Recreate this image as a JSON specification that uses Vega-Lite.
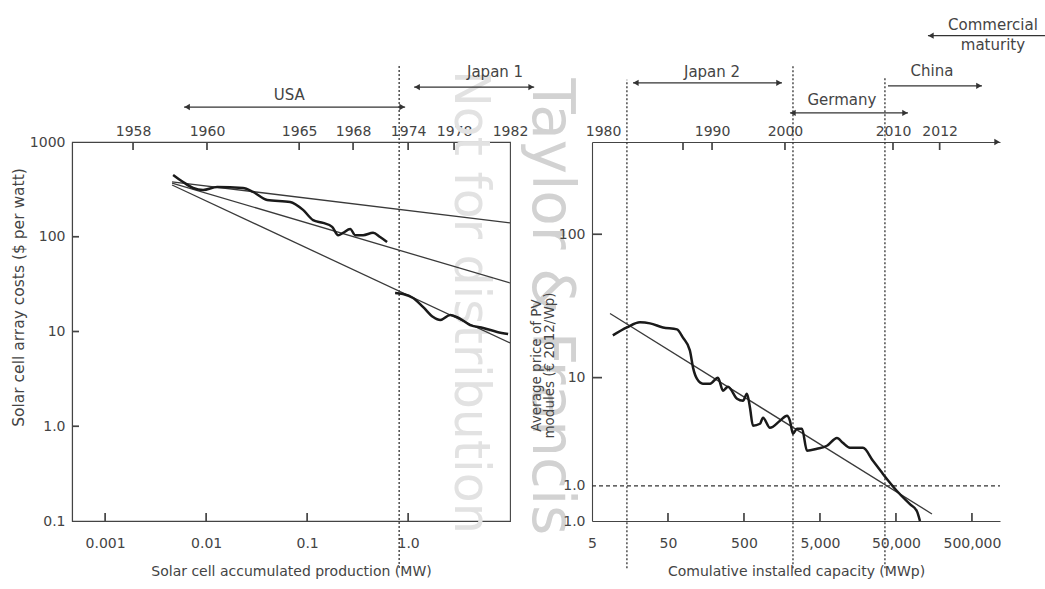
{
  "$schema": "https://vega.github.io/schema/vega-lite/v6.json",
  "background": "white",
  "padding": {"left": 10, "top": 17, "right": 0, "bottom": 0},
  "spacing": 82,
  "bounds": "flush",
  "datasets": {
    "left_fit": [
      {"s": "A", "x": 0.0046, "y": 380}, {"s": "A", "x": 10.2, "y": 140},
      {"s": "B", "x": 0.0046, "y": 369}, {"s": "B", "x": 10.2, "y": 32.5},
      {"s": "C", "x": 0.0046, "y": 352}, {"s": "C", "x": 10.2, "y": 7.57}
    ],
    "left_curve": [
      {"s": "USA", "x": 0.00471, "y": 449}, {"s": "USA", "x": 0.00592, "y": 378}, {"s": "USA", "x": 0.00743, "y": 327},
      {"s": "USA", "x": 0.00933, "y": 311}, {"s": "USA", "x": 0.01285, "y": 335}, {"s": "USA", "x": 0.0232, "y": 327},
      {"s": "USA", "x": 0.0292, "y": 297}, {"s": "USA", "x": 0.0402, "y": 244}, {"s": "USA", "x": 0.0679, "y": 233},
      {"s": "USA", "x": 0.0912, "y": 192}, {"s": "USA", "x": 0.1146, "y": 150}, {"s": "USA", "x": 0.144, "y": 140},
      {"s": "USA", "x": 0.177, "y": 127}, {"s": "USA", "x": 0.203, "y": 104}, {"s": "USA", "x": 0.227, "y": 110},
      {"s": "USA", "x": 0.267, "y": 121}, {"s": "USA", "x": 0.299, "y": 104}, {"s": "USA", "x": 0.358, "y": 104},
      {"s": "USA", "x": 0.45, "y": 110}, {"s": "USA", "x": 0.528, "y": 99.4}, {"s": "USA", "x": 0.619, "y": 88},
      {"s": "J1", "x": 0.743, "y": 25.5}, {"s": "J1", "x": 0.891, "y": 24.9}, {"s": "J1", "x": 1.12, "y": 22.6},
      {"s": "J1", "x": 1.41, "y": 18.1}, {"s": "J1", "x": 1.77, "y": 14.2}, {"s": "J1", "x": 2.08, "y": 13.2},
      {"s": "J1", "x": 2.61, "y": 14.9}, {"s": "J1", "x": 3.06, "y": 14.2}, {"s": "J1", "x": 4.11, "y": 11.7},
      {"s": "J1", "x": 5.53, "y": 10.9}, {"s": "J1", "x": 7.6, "y": 9.9}, {"s": "J1", "x": 9.77, "y": 9.4}
    ],
    "left_rule": [{"x": 0.815, "y": 0.0319, "y2": 6500}],
    "left_arrows": [{"x": 0.00605, "x2": 0.934, "y": 2339}, {"x": 1.147, "x2": 17.7, "y": 3801}],
    "left_heads_l": [{"x": 0.00649, "y": 2339}, {"x": 1.228, "y": 3801}],
    "left_heads_r": [{"x": 0.872, "y": 2339}, {"x": 16.5, "y": 3801}],
    "left_labels": [{"x": 0.0664, "y": 3134, "label": "USA"}, {"x": 7.26, "y": 5483, "label": "Japan 1"}],
    "left_top": [{"x": 0.00189}, {"x": 0.0102}, {"x": 0.0834}, {"x": 0.285}, {"x": 1.0}, {"x": 2.85}, {"x": 10.2}],
    "left_ticks_b": [{"x": 0.001, "y": 0.1}, {"x": 0.01, "y": 0.1}, {"x": 0.1, "y": 0.1}, {"x": 1, "y": 0.1}],
    "left_ticks_t": [
      {"x": 0.00189, "y": 1000}, {"x": 0.0102, "y": 1000}, {"x": 0.0834, "y": 1000}, {"x": 0.285, "y": 1000},
      {"x": 1.0, "y": 1000}, {"x": 2.85, "y": 1000}
    ],
    "left_ticks_h": [{"x": 0.00047, "y": 1}, {"x": 0.00047, "y": 10}, {"x": 0.00047, "y": 100}],
    "wm1": [{"x": 25.5, "y": 18.2, "label": "Taylor & Francis"}],
    "wm2": [{"x": 4.11, "y": 20.5, "label": "Not for distribution"}],
    "right_curve": [
      {"x": 9.4, "y": 19.7}, {"x": 14.4, "y": 22.4}, {"x": 21.4, "y": 24.3}, {"x": 29, "y": 23.9}, {"x": 43, "y": 22.4},
      {"x": 65.6, "y": 21.7}, {"x": 78.7, "y": 19.0}, {"x": 97, "y": 15.5}, {"x": 107, "y": 11.7}, {"x": 120, "y": 9.84},
      {"x": 144, "y": 9.08}, {"x": 179, "y": 9.08}, {"x": 227, "y": 10}, {"x": 265, "y": 8.11}, {"x": 308, "y": 8.65},
      {"x": 405, "y": 7.13}, {"x": 485, "y": 6.9}, {"x": 547, "y": 7.73}, {"x": 600, "y": 6.17}, {"x": 656, "y": 4.62},
      {"x": 812, "y": 4.77}, {"x": 890, "y": 5.25}, {"x": 1099, "y": 4.47}, {"x": 1489, "y": 5.0}, {"x": 1840, "y": 5.42},
      {"x": 2014, "y": 5.0}, {"x": 2207, "y": 4.06}, {"x": 2490, "y": 4.4}, {"x": 2900, "y": 4.4}, {"x": 3373, "y": 3.09},
      {"x": 4570, "y": 3.19}, {"x": 6180, "y": 3.35}, {"x": 8370, "y": 3.8}, {"x": 10000, "y": 3.51}, {"x": 12400, "y": 3.24},
      {"x": 18400, "y": 3.24}, {"x": 24900, "y": 2.63}, {"x": 33700, "y": 2.13}, {"x": 51500, "y": 1.62}, {"x": 76400, "y": 1.31},
      {"x": 94400, "y": 1.17}, {"x": 103500, "y": 1.0}
    ],
    "right_fit": [{"x": 8.63, "y": 28.0}, {"x": 148900, "y": 1.12}],
    "right_vrules": [{"x": 14.4, "y": 0.469, "y2": 1194}, {"x": 2207, "y": 0.469, "y2": 1520}, {"x": 35800, "y": 0.469, "y2": 1253}],
    "right_hrule": [{"x": 5, "x2": 1170000, "y": 1.76}],
    "right_arrows": [
      {"x": 17.3, "x2": 1581, "y": 1138}, {"x": 2014, "x2": 71950, "y": 702},
      {"x": 39260, "x2": 677500, "y": 1084}, {"x": 131800, "x2": 4570000, "y": 2426}
    ],
    "right_heads_l": [{"x": 18.9, "y": 1138}, {"x": 2207, "y": 702}, {"x": 144500, "y": 2426}],
    "right_heads_r": [{"x": 1445, "y": 1138}, {"x": 65700, "y": 702}, {"x": 618000, "y": 1084}, {"x": 1070000, "y": 440}],
    "right_labels": [
      {"x": 190, "y": 1358, "label": "Japan 2"}, {"x": 9730, "y": 865, "label": "Germany"},
      {"x": 148900, "y": 1380, "label": "China"}, {"x": 944600, "y": 2896, "label": "Commercial"},
      {"x": 944600, "y": 2098, "label": "maturity"}
    ],
    "right_top": [{"x": 7.0}, {"x": 78.8}, {"x": 190}, {"x": 1731}, {"x": 45700}, {"x": 188000}],
    "right_ticks_b": [{"x": 50, "y": 1}, {"x": 500, "y": 1}, {"x": 5000, "y": 1}, {"x": 50000, "y": 1}, {"x": 500000, "y": 1}],
    "right_ticks_t": [{"x": 78.8, "y": 440}, {"x": 190, "y": 440}, {"x": 1731, "y": 440}, {"x": 45700, "y": 440}, {"x": 188000, "y": 440}],
    "right_ticks_h": [{"x": 5, "y": 10}, {"x": 5, "y": 100}]
  },
  "hconcat": [
    {
      "width": 438,
      "height": 379,
      "view": {"stroke": "#444", "strokeWidth": 1.1},
      "resolve": {"scale": {"x": "independent"}},
      "layer": [
        {
          "encoding": {
            "x": {
              "field": "x", "type": "quantitative",
              "scale": {"type": "log", "domain": [0.00047, 10.2], "nice": false, "zero": false},
              "axis": {
                "orient": "bottom", "values": [0.001, 0.01, 0.1, 1],
                "labelExpr": "datum.value >= 0.5 ? '1.0' : datum.value >= 0.05 ? '0.1' : datum.value >= 0.005 ? '0.01' : '0.001'",
                "labelFlush": false, "labelPadding": 15, "title": "Solar cell accumulated production (MW)", "titlePadding": 14
              }
            },
            "y": {
              "field": "y", "type": "quantitative",
              "scale": {"type": "log", "domain": [0.1, 1000], "nice": false, "zero": false},
              "axis": {
                "values": [0.1, 1, 10, 100, 1000],
                "labelExpr": "datum.value >= 10 ? format(datum.value, 'd') : format(datum.value, '.1f')",
                "labelPadding": 7, "labelFlush": false,
                "title": "Solar cell array costs ($ per watt)", "titleFontSize": 15.5, "titlePadding": 3, "titleY": 155
              }
            }
          },
          "layer": [
            {
              "data": {"name": "wm1"},
              "mark": {"type": "text", "angle": 90, "fontSize": 58, "font": "DejaVu Sans", "fill": "#d2d2d2", "align": "center", "baseline": "middle"},
              "encoding": {"text": {"field": "label"}}
            },
            {
              "data": {"name": "wm2"},
              "mark": {"type": "text", "angle": 90, "fontSize": 49, "font": "DejaVu Sans", "fill": "#e2e2e2", "align": "center", "baseline": "middle"},
              "encoding": {"text": {"field": "label"}}
            },
            {
              "data": {"name": "left_ticks_b"},
              "mark": {"type": "point", "shape": "M0,0L0,-1", "size": 256, "filled": false, "stroke": "#444", "strokeWidth": 1.7, "opacity": 1}
            },
            {
              "data": {"name": "left_ticks_t"},
              "mark": {"type": "point", "shape": "M0,0L0,1", "size": 256, "filled": false, "stroke": "#444", "strokeWidth": 1.7, "opacity": 1}
            },
            {
              "data": {"name": "left_ticks_h"},
              "mark": {"type": "point", "shape": "M0,0L1,0", "size": 196, "filled": false, "stroke": "#444", "strokeWidth": 1.7, "opacity": 1}
            },
            {
              "data": {"name": "left_rule"},
              "mark": {"type": "rule", "color": "#333", "strokeWidth": 1.3, "strokeDash": [2, 2]},
              "encoding": {"y2": {"field": "y2"}}
            },
            {
              "data": {"name": "left_fit"},
              "mark": {"type": "line", "color": "#3a3a3a", "strokeWidth": 1.3},
              "encoding": {"detail": {"field": "s"}}
            },
            {
              "data": {"name": "left_curve"},
              "mark": {"type": "line", "color": "#1a1a1a", "strokeWidth": 2.5, "interpolate": "monotone"},
              "encoding": {"detail": {"field": "s"}}
            },
            {
              "data": {"name": "left_arrows"},
              "mark": {"type": "rule", "color": "#333", "strokeWidth": 1.2},
              "encoding": {"x2": {"field": "x2"}}
            },
            {
              "data": {"name": "left_heads_l"},
              "mark": {"type": "point", "shape": "triangle-left", "filled": true, "color": "#333", "size": 40, "opacity": 1}
            },
            {
              "data": {"name": "left_heads_r"},
              "mark": {"type": "point", "shape": "triangle-right", "filled": true, "color": "#333", "size": 40, "opacity": 1}
            },
            {
              "data": {"name": "left_labels"},
              "mark": {"type": "text", "fontSize": 15, "font": "DejaVu Sans", "fill": "#444", "align": "center", "baseline": "middle"},
              "encoding": {"text": {"field": "label"}}
            }
          ]
        },
        {
          "data": {"name": "left_top"},
          "mark": {"type": "point", "opacity": 0},
          "encoding": {
            "x": {
              "field": "x", "type": "quantitative",
              "scale": {"type": "log", "domain": [0.00047, 10.2], "nice": false, "zero": false},
              "axis": {
                "orient": "top", "values": [0.00189, 0.0102, 0.0834, 0.285, 1.0, 2.85, 10.2],
                "labelExpr": "datum.value < 0.005 ? '1958' : datum.value < 0.05 ? '1960' : datum.value < 0.15 ? '1965' : datum.value < 0.5 ? '1968' : datum.value < 1.8 ? '1974' : datum.value < 6 ? '1978' : '1982'",
                "labelFlush": false, "labelPadding": 4, "title": null
              }
            }
          }
        }
      ]
    },
    {
      "width": 408,
      "height": 379,
      "view": {"stroke": null},
      "resolve": {"scale": {"x": "independent"}},
      "layer": [
        {
          "encoding": {
            "x": {
              "field": "x", "type": "quantitative",
              "scale": {"type": "log", "domain": [5, 1170000], "nice": false, "zero": false},
              "axis": {
                "orient": "bottom", "values": [5, 50, 500, 5000, 50000, 500000],
                "labelExpr": "format(datum.value, ',')",
                "labelFlush": false, "labelPadding": 15, "title": "Comulative installed capacity (MWp)", "titlePadding": 14
              }
            },
            "y": {
              "field": "y", "type": "quantitative",
              "scale": {"type": "log", "domain": [1, 440], "nice": false, "zero": false},
              "axis": {
                "values": [1, 1.76, 10, 100],
                "labelExpr": "datum.value < 5 ? '1.0' : format(datum.value, 'd')",
                "labelPadding": 7, "labelFlush": false,
                "title": ["Average price of PV", "modules (€ 2012/Wp)"], "titleFontSize": 13.5, "titleLineHeight": 13,
                "titlePadding": 2, "titleY": 223
              }
            }
          },
          "layer": [
            {
              "data": {"name": "right_ticks_b"},
              "mark": {"type": "point", "shape": "M0,0L0,-1", "size": 256, "filled": false, "stroke": "#444", "strokeWidth": 1.7, "opacity": 1}
            },
            {
              "data": {"name": "right_ticks_t"},
              "mark": {"type": "point", "shape": "M0,0L0,1", "size": 256, "filled": false, "stroke": "#444", "strokeWidth": 1.7, "opacity": 1}
            },
            {
              "data": {"name": "right_ticks_h"},
              "mark": {"type": "point", "shape": "M0,0L1,0", "size": 400, "filled": false, "stroke": "#444", "strokeWidth": 1.7, "opacity": 1}
            },
            {
              "data": {"name": "right_vrules"},
              "mark": {"type": "rule", "color": "#333", "strokeWidth": 1.3, "strokeDash": [2, 2]},
              "encoding": {"y2": {"field": "y2"}}
            },
            {
              "data": {"name": "right_hrule"},
              "mark": {"type": "rule", "color": "#333", "strokeWidth": 1.2, "strokeDash": [4, 3]},
              "encoding": {"x2": {"field": "x2"}}
            },
            {
              "data": {"name": "right_fit"},
              "mark": {"type": "line", "color": "#3a3a3a", "strokeWidth": 1.3},
              "encoding": {}
            },
            {
              "data": {"name": "right_curve"},
              "mark": {"type": "line", "color": "#1a1a1a", "strokeWidth": 2.5, "interpolate": "monotone"},
              "encoding": {}
            },
            {
              "data": {"name": "right_arrows"},
              "mark": {"type": "rule", "color": "#333", "strokeWidth": 1.2},
              "encoding": {"x2": {"field": "x2"}}
            },
            {
              "data": {"name": "right_heads_l"},
              "mark": {"type": "point", "shape": "triangle-left", "filled": true, "color": "#333", "size": 40, "opacity": 1}
            },
            {
              "data": {"name": "right_heads_r"},
              "mark": {"type": "point", "shape": "triangle-right", "filled": true, "color": "#333", "size": 40, "opacity": 1}
            },
            {
              "data": {"name": "right_labels"},
              "mark": {"type": "text", "fontSize": 15, "font": "DejaVu Sans", "fill": "#444", "align": "center", "baseline": "middle"},
              "encoding": {"text": {"field": "label"}}
            }
          ]
        },
        {
          "data": {"name": "right_top"},
          "mark": {"type": "point", "opacity": 0},
          "encoding": {
            "x": {
              "field": "x", "type": "quantitative",
              "scale": {"type": "log", "domain": [5, 1170000], "nice": false, "zero": false},
              "axis": {
                "orient": "top", "values": [7.0, 78.8, 190, 1731, 45700, 188000],
                "labelExpr": "datum.value < 10 ? '1980' : datum.value < 100 ? '' : datum.value < 500 ? '1990' : datum.value < 5000 ? '2000' : datum.value < 100000 ? '2010' : '2012'",
                "labelFlush": false, "labelPadding": 4, "title": null
              }
            }
          }
        }
      ]
    }
  ],
  "config": {
    "font": "DejaVu Sans",
    "view": {"stroke": null},
    "axis": {
      "labelFont": "DejaVu Sans", "titleFont": "DejaVu Sans",
      "labelFontSize": 14, "titleFontSize": 14, "titleFontWeight": "normal",
      "labelColor": "#444", "titleColor": "#444",
      "domainColor": "#444", "domainWidth": 1.1,
      "ticks": false, "tickSize": 0, "grid": false
    }
  }
}
